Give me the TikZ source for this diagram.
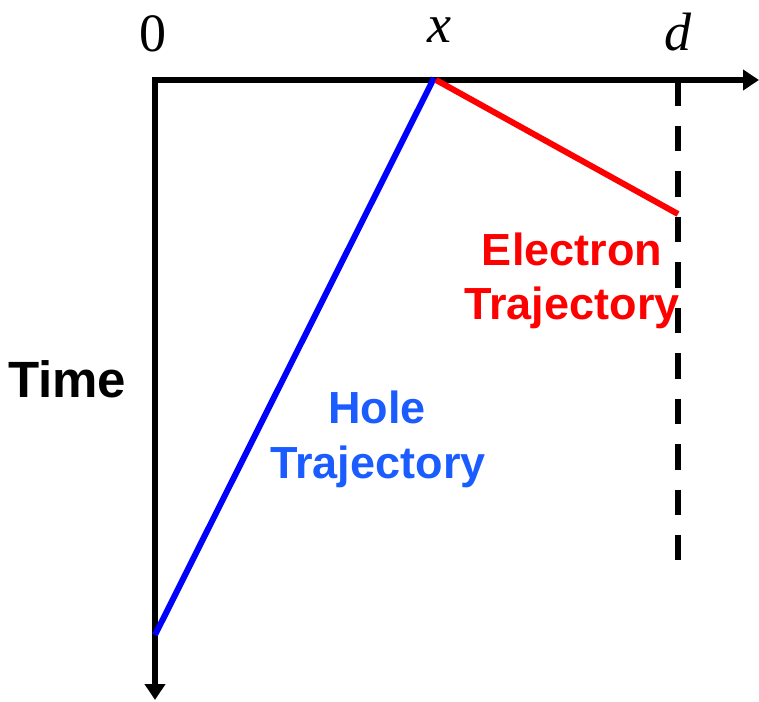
\documentclass[tikz,border=0pt]{standalone}
\usepackage{fontspec}
\setmainfont{Liberation Serif}
\setsansfont{Liberation Sans}
\usetikzlibrary{arrows.meta}
\definecolor{holeblue}{RGB}{26,92,255}
\tikzset{
  axis/.style={line width=6pt,-{Triangle[length=16pt,width=20pt]}},
  traj/.style={line width=6pt},
  marklbl/.style={font=\fontsize{54}{54}\selectfont, anchor=base, inner sep=0pt},
  lbl/.style={font=\sffamily\bfseries\fontsize{45}{55}\selectfont, align=center, inner sep=0pt},
}
\begin{document}
\begin{tikzpicture}[x=1pt,y=-1pt]
\useasboundingbox (0,0) rectangle (759,701);
\coordinate (O) at (155,80);
\coordinate (Xend) at (759,80);
\coordinate (Tend) at (155,700);
\coordinate (X) at (436,80);
\coordinate (Hb) at (155,635);
\coordinate (E) at (678,214);
\coordinate (Dtop) at (678,80);
\coordinate (Dbot) at (678,560);
% axes
\draw[axis] ([xshift=-3pt]O) -- (Xend);
\draw[axis] (O) -- (Tend);
% dashed d line
\draw[line width=6pt, dash pattern=on 25.5pt off 20pt] (Dtop) -- (Dbot);
% trajectories
\draw[traj, blue] (Hb) -- ([xshift=-2pt,yshift=2pt]X);
\draw[traj, red] (X) -- (E);
% labels
\node[marklbl] (l0) at (153,52) {0};
\node[marklbl] (lx) at (439,43) {\itshape x};
\node[marklbl] (ld) at (678,50) {\itshape d};
\node[font=\sffamily\bfseries\fontsize{51}{51}\selectfont, anchor=base west, inner sep=0pt] (time) at (8,397) {Time};
\node[lbl, red, anchor=base] (el1) at (572,265) {Electron};
\node[lbl, red, anchor=base] (el2) at (572,319) {Trajectory};
\node[lbl, holeblue, anchor=base] (ho1) at (377,423) {Hole};
\node[lbl, holeblue, anchor=base] (ho2) at (378,478) {Trajectory};
\end{tikzpicture}
\end{document}
